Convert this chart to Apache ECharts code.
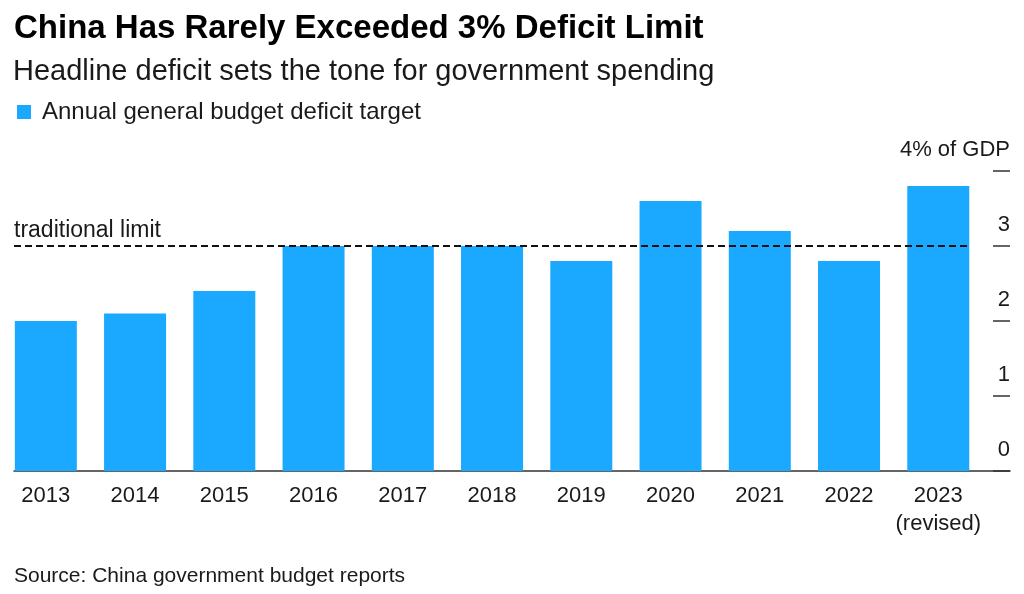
<!DOCTYPE html>
<html>
<head>
<meta charset="utf-8">
<script src="https://cdn.jsdelivr.net/npm/echarts@6/dist/echarts.min.js"></script>
<style>
html,body{margin:0;padding:0;background:#fff;}
#chart{width:1024px;height:594px;}
</style>
</head>
<body>
<div id="chart"></div>
<script>
const categories = ['2013','2014','2015','2016','2017','2018','2019','2020','2021','2022','2023\n(revised)'];
const deficitTarget = [2.0, 2.1, 2.4, 3.0, 3.0, 3.0, 2.8, 3.6, 3.2, 2.8, 3.8];
const yTicks = [0, 1, 2, 3, 4];
const traditionalLimit = 3;

const FONT = '"Liberation Sans", Arial, Helvetica, sans-serif';
const BAR = '#1aa9ff';
const TXT = '#1a1a1a';

const chart = echarts.init(document.getElementById('chart'), null, {renderer: 'canvas'});
chart.setOption({
  animation: false,
  backgroundColor: '#fff',
  textStyle: {fontFamily: FONT},
  title: [
    {text: 'China Has Rarely Exceeded 3% Deficit Limit', left: 9, top: 7,
     textStyle: {fontFamily: FONT, fontSize: 33, fontWeight: 'bold', color: '#000'}},
    {text: 'Headline deficit sets the tone for government spending', left: 8, top: 52,
     textStyle: {fontFamily: FONT, fontSize: 29, fontWeight: 'normal', color: TXT}},
    {text: 'Source: China government budget reports', left: 9, top: 561,
     textStyle: {fontFamily: FONT, fontSize: 21, fontWeight: 'normal', color: TXT}}
  ],
  legend: {
    data: ['Annual general budget deficit target'],
    left: 12, top: 95, icon: 'rect', itemWidth: 14, itemHeight: 14,
    textStyle: {fontFamily: FONT, fontSize: 24, color: TXT, padding: [0,0,0,6]}
  },
  grid: [
    {left: 1.2, right: 41.1, top: 171, bottom: 123},
    {left: 14, right: 14, top: 171, bottom: 123}
  ],
  xAxis: [
    {type: 'category', gridIndex: 0, data: categories,
     axisLine: {show: false}, axisTick: {show: false},
     axisLabel: {interval: 0, fontFamily: FONT, fontSize: 22, color: TXT, margin: 11, lineHeight: 28}},
    {type: 'value', gridIndex: 1, min: 0, max: 1,
     axisLine: {show: true, onZero: false, lineStyle: {color: '#333', width: 1.5}},
     axisTick: {show: false}, axisLabel: {show: false}, splitLine: {show: false}}
  ],
  yAxis: [
    {type: 'value', gridIndex: 0, min: 0, max: 4, interval: 1, show: false, splitLine: {show: false}},
    {type: 'value', gridIndex: 1, min: 0, max: 4, interval: 1, position: 'right',
     axisLine: {show: false, onZero: false},
     axisTick: {show: true, inside: true, length: 17, lineStyle: {color: '#333', width: 1.5}},
     axisLabel: {inside: true, margin: 0, fontFamily: FONT, fontSize: 22, color: TXT,
       verticalAlign: 'bottom', padding: [0, 0, 10, 0],
       formatter: v => (v === yTicks[yTicks.length - 1] ? v + '% of GDP' : String(v))},
     splitLine: {show: false}}
  ],
  series: [
    {name: 'Annual general budget deficit target', type: 'bar', xAxisIndex: 0, yAxisIndex: 0,
     data: deficitTarget, barWidth: 62, itemStyle: {color: BAR}},
    {name: 'limit', type: 'scatter', xAxisIndex: 1, yAxisIndex: 1, data: [], z: 5,
     markLine: {
       symbol: 'none', silent: true,
       lineStyle: {type: [7, 4], width: 2, color: '#111'},
       label: {show: true, position: 'insideStartTop', formatter: 'traditional limit',
               fontFamily: FONT, fontSize: 23, color: TXT, distance: [0, 4]},
       data: [[{coord: [0, traditionalLimit]}, {coord: [0.96, traditionalLimit]}]]
     }}
  ]
});
</script>
</body>
</html>
